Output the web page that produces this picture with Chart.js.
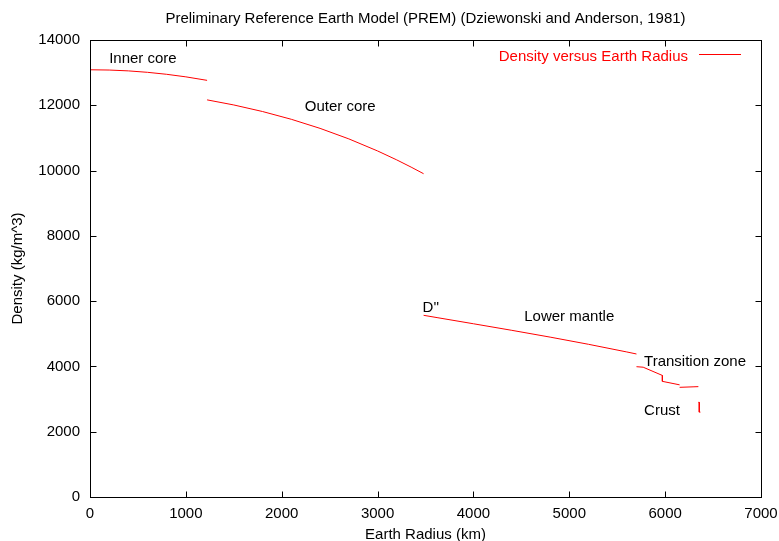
<!DOCTYPE html>
<html>
<head>
<meta charset="utf-8">
<script src="https://cdn.jsdelivr.net/npm/chart.js@4/dist/chart.umd.min.js"></script>
<style>
  html, body { margin: 0; padding: 0; background: #ffffff; }
  #wrap { width: 779px; height: 541px; }
</style>
</head>
<body>
<div id="wrap"><canvas id="prem" width="779" height="541"></canvas></div>
<script>
// PREM density profile, sampled per layer: radius (km) and density (kg/m^3)
const innerCoreRadius   = [0, 200, 400, 600, 800, 1000, 1221.5];
const innerCoreDensity  = [13088, 13080, 13054, 13010, 12949, 12871, 12764];

const outerCoreRadius   = [1221.5, 1500, 1800, 2100, 2400, 2700, 3000, 3200, 3350, 3480];
const outerCoreDensity  = [12166, 12010, 11809, 11571, 11293, 10971, 10601, 10327, 10106, 9904];

const lowerMantleRadius  = [3480, 3630, 4000, 4400, 4800, 5200, 5600, 5701];
const lowerMantleDensity = [5566, 5491, 5307, 5106, 4898, 4678, 4443, 4381];

const transitionRadius  = [5701, 5771, 5971, 5971, 6151];
const transitionDensity = [3992, 3976, 3724, 3543, 3436];

const lidRadius   = [6151, 6291, 6346.6];
const lidDensity  = [3360, 3375, 3381];

const crustRadius  = [6346.6, 6356, 6356, 6368];
const crustDensity = [2900, 2900, 2600, 2600];

const oceanRadius  = [6368, 6371];
const oceanDensity = [1020, 1020];

// Axis ranges and tick steps
const radiusTicks  = [0, 1000, 2000, 3000, 4000, 5000, 6000, 7000];
const densityTicks = [0, 2000, 4000, 6000, 8000, 10000, 12000, 14000];

// Layer names placed on the plot (left edge at radius, vertical centre at density)
const layerLabels        = ['Inner core', 'Outer core', "D''", 'Lower mantle', 'Transition zone', 'Crust'];
const layerLabelRadius   = [200, 2240, 3470, 4530, 5780, 5780];
const layerLabelDensity  = [13420, 11950, 5790, 5515, 4140, 2640];

const FONT = '"Liberation Sans", Arial, Helvetica, sans-serif';
const FONT_SIZE = 15;

// One continuous dataset; a null point breaks the line at each discontinuity
const layers = [
  [innerCoreRadius, innerCoreDensity],
  [outerCoreRadius, outerCoreDensity],
  [lowerMantleRadius, lowerMantleDensity],
  [transitionRadius, transitionDensity],
  [lidRadius, lidDensity],
  [crustRadius, crustDensity],
  [oceanRadius, oceanDensity]
];
const profile = [];
layers.forEach(([r, d], i) => {
  if (i > 0) profile.push({ x: r[0], y: null });
  r.forEach((v, k) => profile.push({ x: v, y: d[k] }));
});

// Box around the plot with inward ticks on all four sides
const framePlugin = {
  id: 'frame',
  afterDraw(chart) {
    const { ctx, chartArea: a, scales: { x, y } } = chart;
    const L = Math.round(a.left) + 0.5, R = Math.round(a.right) + 0.5;
    const T = Math.round(a.top) + 0.5, B = Math.round(a.bottom) + 0.5;
    const len = 6;
    ctx.save();
    ctx.strokeStyle = '#000000';
    ctx.lineWidth = 1;
    ctx.beginPath();
    radiusTicks.forEach(v => {
      const px = Math.round(x.getPixelForValue(v)) + 0.5;
      ctx.moveTo(px, B); ctx.lineTo(px, B - len);
      ctx.moveTo(px, T); ctx.lineTo(px, T + len);
    });
    densityTicks.forEach(v => {
      const py = Math.round(y.getPixelForValue(v)) + 0.5;
      ctx.moveTo(L, py); ctx.lineTo(L + len, py);
      ctx.moveTo(R, py); ctx.lineTo(R - len, py);
    });
    ctx.stroke();
    ctx.strokeRect(L, T, R - L, B - T);
    ctx.restore();
  }
};

// Layer names, key and heading
const textPlugin = {
  id: 'texts',
  afterDatasetsDraw(chart) {
    const { ctx, chartArea: a, scales: { x, y } } = chart;
    ctx.save();
    ctx.font = FONT_SIZE + 'px ' + FONT;
    ctx.fillStyle = '#000000';
    ctx.textAlign = 'left';
    ctx.textBaseline = 'middle';
    layerLabels.forEach((t, i) => {
      ctx.fillText(t, x.getPixelForValue(layerLabelRadius[i]), y.getPixelForValue(layerLabelDensity[i]));
    });

    // key, top right inside the box
    const ds = chart.data.datasets[0];
    const ky = a.top + 14.5;
    ctx.fillStyle = ds.borderColor;
    ctx.textAlign = 'right';
    ctx.fillText(ds.label, a.right - 73, ky + 2);
    ctx.strokeStyle = ds.borderColor;
    ctx.lineWidth = 1;
    ctx.beginPath();
    ctx.moveTo(a.right - 62, ky);
    ctx.lineTo(a.right - 20, ky);
    ctx.stroke();

    // heading above the box
    ctx.fillStyle = '#000000';
    ctx.textAlign = 'center';
    ctx.font = FONT_SIZE + 'px ' + FONT;
    ctx.fillText('Preliminary Reference Earth Model (PREM) (Dziewonski and Anderson, 1981)', (a.left + a.right) / 2, 19);
    ctx.restore();
  }
};

new Chart(document.getElementById('prem'), {
  type: 'line',
  data: {
    datasets: [{
      label: 'Density versus Earth Radius',
      data: profile,
      borderColor: '#ff0000',
      borderWidth: 1,
      pointRadius: 0,
      fill: false,
      tension: 0,
      spanGaps: false
    }]
  },
  options: {
    responsive: false,
    animation: false,
    devicePixelRatio: 1,
    layout: { padding: { top: 40, right: 18, bottom: 0, left: 0 } },
    plugins: {
      legend: { display: false },
      title: { display: false },
      tooltip: { enabled: false }
    },
    scales: {
      x: {
        type: 'linear',
        min: radiusTicks[0],
        max: radiusTicks[radiusTicks.length - 1],
        afterBuildTicks(s) { s.ticks = radiusTicks.map(v => ({ value: v })); },
        ticks: { color: '#000000', font: { family: FONT, size: FONT_SIZE }, padding: 8, maxRotation: 0, autoSkip: false, callback: v => String(v) },
        grid: { display: false, drawTicks: false },
        border: { display: false },
        title: { display: true, text: 'Earth Radius (km)', color: '#000000', font: { family: FONT, size: FONT_SIZE }, padding: { top: 0, bottom: -3 } },
        afterFit(s) { s.height = 44; s.paddingLeft = 0; s.paddingRight = 0; }
      },
      y: {
        type: 'linear',
        min: densityTicks[0],
        max: densityTicks[densityTicks.length - 1],
        afterBuildTicks(s) { s.ticks = densityTicks.map(v => ({ value: v })); },
        ticks: { color: '#000000', font: { family: FONT, size: FONT_SIZE }, padding: 10, callback: v => String(v) },
        grid: { display: false, drawTicks: false },
        border: { display: false },
        title: { display: true, text: 'Density (kg/m^3)', color: '#000000', font: { family: FONT, size: FONT_SIZE }, padding: { top: 9, bottom: 0 } },
        afterFit(s) { s.width = 90; s.paddingTop = 0; s.paddingBottom = 0; }
      }
    }
  },
  plugins: [framePlugin, textPlugin]
});
</script>
</body>
</html>
